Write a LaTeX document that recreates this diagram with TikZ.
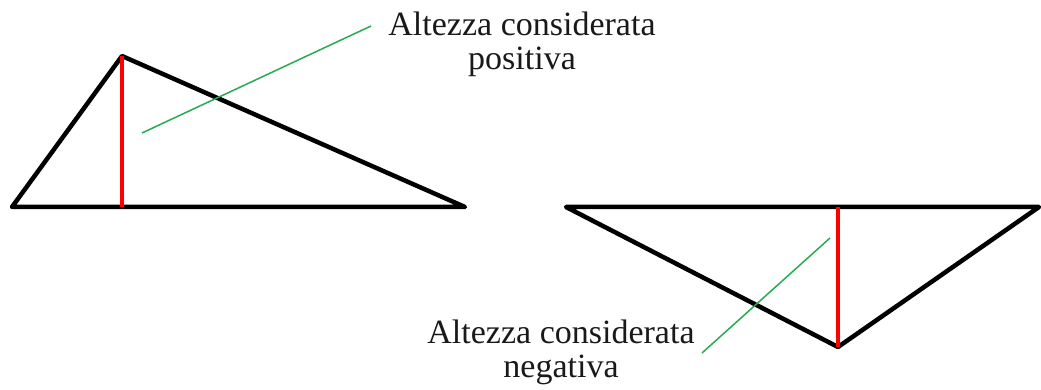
\documentclass[tikz,border=0pt]{standalone}
\usepackage{fontspec}
\setmainfont{Liberation Serif}
\begin{document}
\begin{tikzpicture}[x=1pt,y=-1pt,
  tri/.style={draw=black,line width=4.5pt,line join=round},
  alt/.style={draw=red,line width=3.5pt},
  lead/.style={draw={rgb,255:red,40;green,170;blue,80},line width=1.5pt},
  lbl/.style={align=center,inner sep=0pt,anchor=north,font=\fontsize{34}{34}\selectfont,text=black!90}]
\useasboundingbox (0,0) rectangle (1041,390);
% left triangle
\coordinate (A1) at (12,207);
\coordinate (B1) at (122,56);
\coordinate (C1) at (465,207);
\coordinate (H1) at (122,207);
\draw[tri] (A1) -- (B1) -- (C1) -- cycle;
\draw[alt] (B1) -- (H1);
% right triangle
\coordinate (A2) at (566,207);
\coordinate (B2) at (1039,207);
\coordinate (C2) at (838,347);
\coordinate (H2) at (838,207);
\draw[tri] (A2) -- (B2) -- (C2) -- cycle;
\draw[alt] (H2) -- (C2);
% labels
\node[lbl] (pos) at (522,12) {Altezza considerata\\positiva};
\node[lbl] (neg) at (561,320) {Altezza considerata\\negativa};
\coordinate (p1) at (142,133);
\coordinate (p2) at (371,26);
\coordinate (n1) at (830,238);
\coordinate (n2) at (702,353);
\draw[lead] (p1) -- (p2);
\draw[lead] (n1) -- (n2);
\end{tikzpicture}
\end{document}
